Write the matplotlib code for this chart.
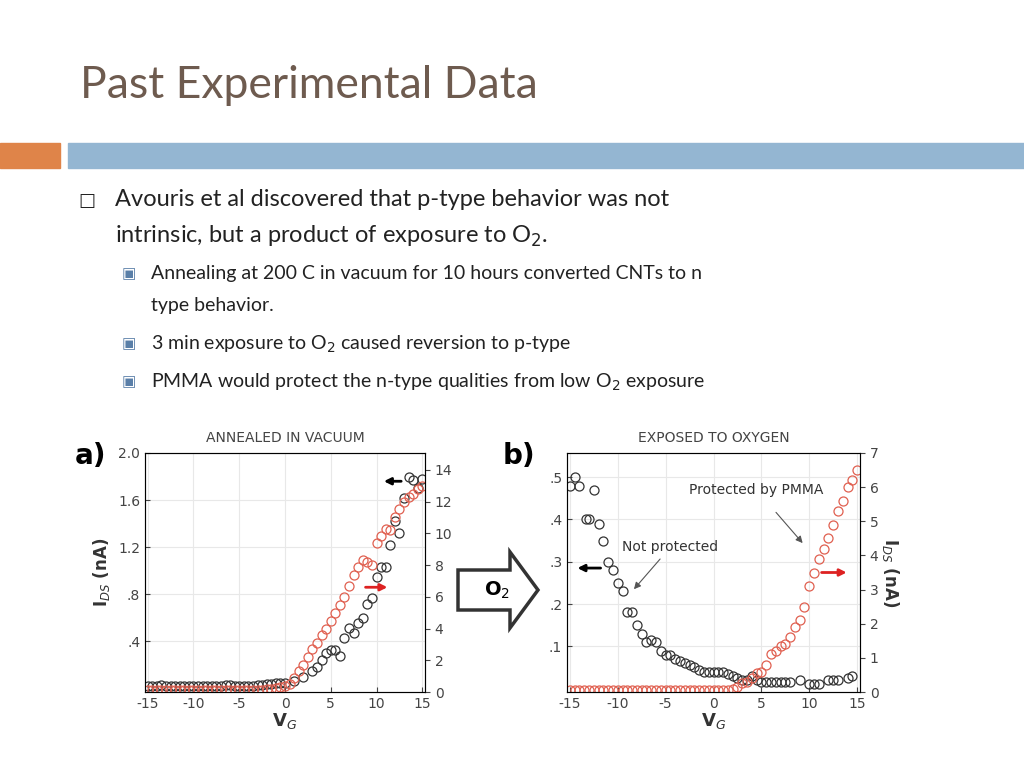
import numpy as np
import matplotlib.pyplot as plt
from matplotlib.patches import Rectangle, FancyArrow

# panel a: annealed in vacuum
a_vg_flat = [-15, -14.5, -14, -13.5, -13, -12.5, -12, -11.5, -11, -10.5, -10, -9.5, -9, -8.5, -8, -7.5, -7, -6.5, -6, -5.5, -5, -4.5, -4, -3.5, -3, -2.5, -2, -1.5, -1, -0.5, 0]
a_black_flat = [0.02, 0.02, 0.02, 0.03, 0.02, 0.02, 0.02, 0.02, 0.02, 0.02, 0.02, 0.02, 0.02, 0.02, 0.02, 0.02, 0.02, 0.03, 0.03, 0.02, 0.02, 0.02, 0.02, 0.02, 0.03, 0.03, 0.04, 0.04, 0.05, 0.05, 0.05]
a_red_flat = [0.1, 0.1, 0.1, 0.1, 0.1, 0.1, 0.1, 0.1, 0.1, 0.1, 0.1, 0.1, 0.1, 0.1, 0.1, 0.1, 0.1, 0.1, 0.1, 0.1, 0.1, 0.1, 0.1, 0.1, 0.15, 0.15, 0.2, 0.2, 0.25, 0.3, 0.35]
a_black_vg = [1, 2, 3, 3.5, 4, 4.5, 5, 5.5, 6, 6.5, 7, 7.5, 8, 8.5, 9, 9.5, 10, 10.5, 11, 11.5, 12, 12.5, 13, 13.5, 14, 14.5, 15]
a_black = [0.06, 0.1, 0.15, 0.18, 0.24, 0.3, 0.33, 0.33, 0.28, 0.43, 0.51, 0.47, 0.56, 0.6, 0.72, 0.77, 0.95, 1.03, 1.03, 1.22, 1.42, 1.32, 1.62, 1.8, 1.77, 1.7, 1.78]
a_red_vg = [0.5, 1, 1.5, 2, 2.5, 3, 3.5, 4, 4.5, 5, 5.5, 6, 6.5, 7, 7.5, 8, 8.5, 9, 9.5, 10, 10.5, 11, 11.5, 12, 12.5, 13, 13.5, 14, 14.5, 15]
a_red = [0.5, 0.9, 1.3, 1.7, 2.2, 2.7, 3.1, 3.6, 4.0, 4.5, 5.0, 5.5, 6.0, 6.7, 7.4, 7.9, 8.3, 8.2, 8.0, 9.4, 9.8, 10.3, 10.2, 11.0, 11.5, 12.0, 12.3, 12.5, 12.8, 13.0]

# panel b: exposed to oxygen
b_black_vg = [-15, -14.5, -14, -13.3, -13, -12.5, -12, -11.5, -11, -10.5, -10, -9.5, -9, -8.5, -8, -7.5, -7, -6.5, -6, -5.5, -5, -4.5, -4, -3.5, -3, -2.5, -2, -1.5, -1, -0.5, 0, 0.5, 1, 1.5, 2, 2.5, 3, 3.5, 4, 4.5, 5, 5.5, 6, 6.5, 7, 7.5, 8, 9, 10, 10.5, 11, 12, 12.5, 13, 14, 14.5]
b_black = [0.48, 0.5, 0.48, 0.4, 0.4, 0.47, 0.39, 0.35, 0.3, 0.28, 0.25, 0.23, 0.18, 0.18, 0.15, 0.13, 0.11, 0.115, 0.11, 0.09, 0.08, 0.08, 0.07, 0.065, 0.06, 0.055, 0.05, 0.045, 0.04, 0.04, 0.04, 0.04, 0.04, 0.035, 0.03, 0.025, 0.02, 0.02, 0.03, 0.02, 0.015, 0.015, 0.015, 0.015, 0.015, 0.015, 0.015, 0.02, 0.012, 0.01, 0.012, 0.02, 0.02, 0.02, 0.025, 0.03]
b_red_vg = [-15, -14.5, -14, -13.5, -13, -12.5, -12, -11.5, -11, -10.5, -10, -9.5, -9, -8.5, -8, -7.5, -7, -6.5, -6, -5.5, -5, -4.5, -4, -3.5, -3, -2.5, -2, -1.5, -1, -0.5, 0, 0.5, 1, 1.5, 2, 2.5, 3, 3.5, 4, 4.5, 5, 5.5, 6, 6.5, 7, 7.5, 8, 8.5, 9, 9.5, 10, 10.5, 11, 11.5, 12, 12.5, 13, 13.5, 14, 14.5, 15]
b_red = [0.05, 0.05, 0.05, 0.05, 0.05, 0.05, 0.05, 0.05, 0.05, 0.05, 0.05, 0.05, 0.05, 0.05, 0.05, 0.05, 0.05, 0.05, 0.05, 0.05, 0.05, 0.05, 0.05, 0.05, 0.05, 0.05, 0.05, 0.05, 0.05, 0.05, 0.05, 0.05, 0.05, 0.05, 0.1, 0.15, 0.25, 0.3, 0.4, 0.55, 0.6, 0.8, 1.1, 1.2, 1.35, 1.4, 1.6, 1.9, 2.1, 2.5, 3.1, 3.5, 3.9, 4.2, 4.5, 4.9, 5.3, 5.6, 6.0, 6.2, 6.5]

W, H = 1024, 768
fig = plt.figure(figsize=(10.24, 7.68), dpi=100)
fig.patch.set_facecolor('white')

def fx(px):
    return px / W

def fy(py):
    return 1 - py / H

# title and header bars
fig.text(fx(80), fy(85), 'Past Experimental Data', fontsize=32, color='#6e5b4f', va='center', family='Lato')
fig.patches.append(Rectangle((0, fy(168)), fx(60), 25 / H, transform=fig.transFigure, color='#df8449'))
fig.patches.append(Rectangle((fx(68), fy(168)), 1 - fx(68), 25 / H, transform=fig.transFigure, color='#94b6d2'))

# bullets
tc = '#222222'
fig.text(fx(78), fy(201), '\u25a1', fontsize=13, color=tc, va='center')
fig.text(fx(115), fy(200), 'Avouris et al discovered that p-type behavior was not', fontsize=17, color=tc, va='center', family='Lato')
fig.text(fx(115), fy(236), 'intrinsic, but a product of exposure to O$_2$.', fontsize=17, color=tc, va='center', family='Lato')
subs = [(274, 'Annealing at 200 C in vacuum for 10 hours converted CNTs to n'),
        (344, '3 min exposure to O$_2$ caused reversion to p-type'),
        (382, 'PMMA would protect the n-type qualities from low O$_2$ exposure')]
for y, s in subs:
    fig.text(fx(122), fy(y), '\u25a3', fontsize=11, color='#5a7fa8', va='center')
    fig.text(fx(151), fy(y), s, fontsize=14, color=tc, va='center', family='Lato')
fig.text(fx(151), fy(306), 'type behavior.', fontsize=14, color=tc, va='center', family='Lato')

def style(ax, ax2):
    ax.grid(True, color='#e8e8e8', lw=0.8)
    for s in ax.spines.values():
        s.set_color('#555555')
    ax.tick_params(colors='#444444', labelsize=10, direction='in')
    ax2.tick_params(colors='#444444', labelsize=10, direction='out')
    ax.set_xlim(-15.3, 15.3)
    ax.set_xticks([-15, -10, -5, 0, 5, 10, 15])
    ax.set_xticklabels(['-15', '-10', '-5', '0', '5', '10', '15'])
    ax.set_xlabel('V$_G$', fontsize=13, fontweight='bold', color='#333333', labelpad=0)

mk = dict(marker='o', mfc='none', ms=6.5, ls='none', mew=0.9)
blk = '#333333'
red = '#e06050'

# panel a
ax = fig.add_axes([fx(145), fy(692), (425 - 145) / W, (692 - 453) / H])
ax2 = ax.twinx()
ax.plot(a_vg_flat, a_black_flat, mec=blk, **mk)
ax.plot(a_black_vg, a_black, mec=blk, **mk)
ax2.plot(a_vg_flat, a_red_flat, mec=red, **mk)
ax2.plot(a_red_vg, a_red, mec=red, **mk)
ax.set_ylim(-0.03, 2.0)
ax.set_yticks([0.4, 0.8, 1.2, 1.6, 2.0])
ax.set_yticklabels(['.4', '.8', '1.2', '1.6', '2.0'])
ax2.set_ylim(0, 15.06)
ax2.set_yticks(range(0, 15, 2))
style(ax, ax2)
ax.set_ylabel('I$_{DS}$ (nA)', fontsize=12, fontweight='bold', color='#333333')
ax.set_title('ANNEALED IN VACUUM', fontsize=10, color='#444444', pad=8)
ax.annotate('', xy=(10.5, 1.76), xytext=(13, 1.76), arrowprops=dict(arrowstyle='-|>', color='black', lw=2))
ax2.annotate('', xy=(11.5, 6.6), xytext=(8.5, 6.6), arrowprops=dict(arrowstyle='-|>', color='#dd2222', lw=2))
fig.text(fx(75), fy(456), 'a)', fontsize=20, fontweight='bold', va='center')

# panel b
bx = fig.add_axes([fx(567), fy(692), (860 - 567) / W, (692 - 453) / H])
bx2 = bx.twinx()
bx.plot(b_black_vg, b_black, mec=blk, **mk)
bx2.plot(b_red_vg, b_red, mec=red, **mk)
bx.set_ylim(-0.008, 0.557)
bx.set_yticks([0.1, 0.2, 0.3, 0.4, 0.5])
bx.set_yticklabels(['.1', '.2', '.3', '.4', '.5'])
bx2.set_ylim(0, 7)
bx2.set_yticks(range(0, 8))
style(bx, bx2)
bx2.set_ylabel('I$_{DS}$ (nA)', fontsize=12, fontweight='bold', color='#333333', rotation=270, labelpad=16)
bx.set_title('EXPOSED TO OXYGEN', fontsize=10, color='#444444', pad=8)
bx.annotate('', xy=(-14.5, 0.285), xytext=(-11.5, 0.285), arrowprops=dict(arrowstyle='-|>', color='black', lw=2))
bx2.annotate('', xy=(14.2, 3.5), xytext=(11, 3.5), arrowprops=dict(arrowstyle='-|>', color='#dd2222', lw=2))
bx.annotate('Not protected', xy=(-8.5, 0.23), xytext=(-4.5, 0.325), fontsize=10, color='#333333', ha='center',
            arrowprops=dict(arrowstyle='-|>', color='#555555', lw=0.8))
bx2.annotate('Protected by PMMA', xy=(9.5, 4.3), xytext=(4.5, 5.8), fontsize=10, color='#333333', ha='center',
             arrowprops=dict(arrowstyle='-|>', color='#555555', lw=0.8, shrinkA=12))
fig.text(fx(503), fy(456), 'b)', fontsize=20, fontweight='bold', va='center')

# O2 arrow between panels
fig.patches.append(FancyArrow(fx(458), fy(590), fx(52), 0, width=40 / H, head_width=76 / H, head_length=fx(28),
                              transform=fig.transFigure, fc='white', ec='#333333', lw=2.5, length_includes_head=False))
fig.text(fx(497), fy(590), 'O$_2$', fontsize=14, fontweight='bold', ha='center', va='center')

fig.savefig('out.png', dpi=100)
